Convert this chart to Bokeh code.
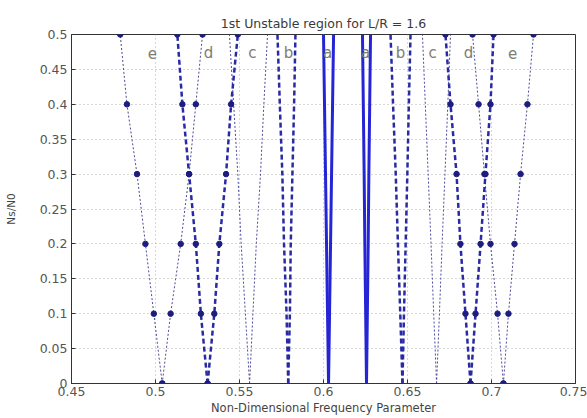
from bokeh.plotting import figure
from bokeh.models import Label, FixedTicker, Range1d
from bokeh.embed import file_html
from bokeh.resources import INLINE

# Ns/N0 levels at which the boundaries were read
ns = [0.0, 0.1, 0.2, 0.3, 0.4, 0.5]

# ---- first branch (lower frequencies) ----
e1_lo = [0.504, 0.499, 0.494, 0.489, 0.483, 0.479]
e1_hi = [0.504, 0.509, 0.515, 0.520, 0.524, 0.528]
d1_lo = [0.531, 0.527, 0.524, 0.520, 0.516, 0.513]
d1_hi = [0.531, 0.535, 0.538, 0.542, 0.545, 0.549]
c1_lo = [0.556, 0.5535, 0.551, 0.549, 0.5465, 0.544]
c1_hi = [0.556, 0.558, 0.560, 0.5625, 0.5645, 0.5667]
b1_lo = [0.579, 0.578, 0.5765, 0.5755, 0.574, 0.5726]
b1_hi = [0.579, 0.580, 0.5805, 0.5815, 0.5825, 0.5833]
a1_lo = [0.603, 0.6024, 0.6018, 0.6012, 0.6006, 0.600]
a1_hi = [0.603, 0.6036, 0.6042, 0.6048, 0.6054, 0.606]

# ---- second branch (higher frequencies) ----
a2_lo = [0.6256, 0.6251, 0.6246, 0.6242, 0.6237, 0.6232]
a2_hi = [0.6256, 0.6261, 0.6266, 0.6270, 0.6275, 0.628]
b2_lo = [0.647, 0.6457, 0.6443, 0.643, 0.6414, 0.6399]
b2_hi = [0.647, 0.6479, 0.6489, 0.6499, 0.6508, 0.6518]
c2_lo = [0.6673, 0.6656, 0.6640, 0.6623, 0.6606, 0.6589]
c2_hi = [0.6673, 0.6690, 0.6706, 0.6723, 0.6740, 0.6756]
d2_lo = [0.6875, 0.6845, 0.6815, 0.6792, 0.6756, 0.6726]
d2_hi = [0.6875, 0.6905, 0.6935, 0.6964, 0.6994, 0.7012]
e2_lo = [0.7071, 0.7036, 0.6994, 0.6958, 0.6923, 0.6887]
e2_hi = [0.7071, 0.7101, 0.7137, 0.7173, 0.7214, 0.7250]

# region letters and where they sit
region_names = ["e", "d", "c", "b", "a", "a", "b", "c", "d", "e"]
region_x = [0.4982, 0.5315, 0.5577, 0.5792, 0.6024, 0.625, 0.6458, 0.6649, 0.6863, 0.7125]
region_y = 0.474

x_ticks = [0.45, 0.5, 0.55, 0.6, 0.65, 0.7, 0.75]
x_tick_labels = ["0.45", "0.5", "0.55", "0.6", "0.65", "0.7", "0.75"]
y_ticks = [0.0, 0.05, 0.1, 0.15, 0.2, 0.25, 0.3, 0.35, 0.4, 0.45, 0.5]
y_tick_labels = ["0", "0.05", "0.1", "0.15", "0.2", "0.25", "0.3", "0.35", "0.4", "0.45", "0.5"]

title_text = "1st Unstable region for L/R = 1.6"
x_title = "Non-Dimensional Frequency Parameter"
y_title = "Ns/N0"

FONT = "DejaVu Sans"

p = figure(width=587, height=418, output_backend="svg", toolbar_location=None,
           x_range=Range1d(0.45, 0.75), y_range=Range1d(0.0, 0.5),
           min_border_left=71, min_border_right=12, min_border_top=34, min_border_bottom=35)
p.background_fill_color = "white"
p.border_fill_color = "white"
p.outline_line_color = "#333333"
p.outline_line_width = 1

p.title.text = title_text
p.title.align = "center"
p.title.text_font = FONT
p.title.text_font_size = "12.5px"
p.title.text_font_style = "normal"
p.title.text_color = "#3a3a3a"
p.title.standoff = 7

# axes
for ax, ticks, labs in ((p.xaxis[0], x_ticks, x_tick_labels), (p.yaxis[0], y_ticks, y_tick_labels)):
    ax.ticker = FixedTicker(ticks=ticks)
    ax.major_label_overrides = {t: l for t, l in zip(ticks, labs)}
    ax.major_tick_in = 4
    ax.major_tick_out = 0
    ax.minor_tick_in = 0
    ax.minor_tick_out = 0
    ax.axis_line_color = "#333333"
    ax.major_tick_line_color = "#333333"
    ax.major_label_text_font = FONT
    ax.major_label_text_font_size = "12.5px"
    ax.major_label_text_color = "#555555"

p.xaxis.major_label_standoff = 3
p.yaxis.major_label_standoff = 4
p.xaxis.axis_label = x_title
p.xaxis.axis_label_text_font = FONT
p.xaxis.axis_label_text_font_size = "11.5px"
p.xaxis.axis_label_text_font_style = "normal"
p.xaxis.axis_label_text_color = "#444444"
p.xaxis.axis_label_standoff = 2
p.yaxis.axis_label = y_title
p.yaxis.axis_label_text_font = FONT
p.yaxis.axis_label_text_font_size = "10.5px"
p.yaxis.axis_label_text_font_style = "normal"
p.yaxis.axis_label_text_color = "#444444"
p.yaxis.axis_label_standoff = 20

# grid
for g in (p.xgrid[0], p.ygrid[0]):
    g.grid_line_color = "#b0b0b0"
    g.grid_line_dash = "1 3"
    g.grid_line_width = 1
p.xgrid.ticker = FixedTicker(ticks=x_ticks)
p.ygrid.ticker = FixedTicker(ticks=y_ticks)

BLUE = "#2525d6"
DARK = "#2a2aa6"
THIN = "#4a4a98"
DOT = "#1d1d80"

def thin(xs, marks):
    p.line(xs, ns, line_color=THIN, line_width=1, line_dash="2 2")
    if marks:
        p.scatter(xs, ns, marker="circle", size=5.5, fill_color=DOT, line_color=DOT)

def thick(xs, marks):
    p.line(xs, ns, line_color=DARK, line_width=2.5, line_dash="5 3")
    if marks:
        p.scatter(xs, ns, marker="circle", size=5.5, fill_color=DOT, line_color=DOT)

def solid(xs):
    p.line(xs, ns, line_color=BLUE, line_width=3)

for xs in (e1_lo, e1_hi, e2_lo, e2_hi):
    thin(xs, True)
for xs in (c1_lo, c1_hi, c2_lo, c2_hi):
    thin(xs, False)
for xs in (d1_lo, d1_hi, d2_lo, d2_hi):
    thick(xs, True)
for xs in (b1_lo, b1_hi, b2_lo, b2_hi):
    thick(xs, False)
for xs in (a1_lo, a1_hi, a2_lo, a2_hi):
    solid(xs)

for name, xv in zip(region_names, region_x):
    p.add_layout(Label(x=xv, y=region_y, text=name, text_font=FONT, text_font_size="15px",
                       text_color="#7d7d72", text_align="center", text_baseline="middle"))

open("out.html", "w").write(file_html(p, INLINE))
